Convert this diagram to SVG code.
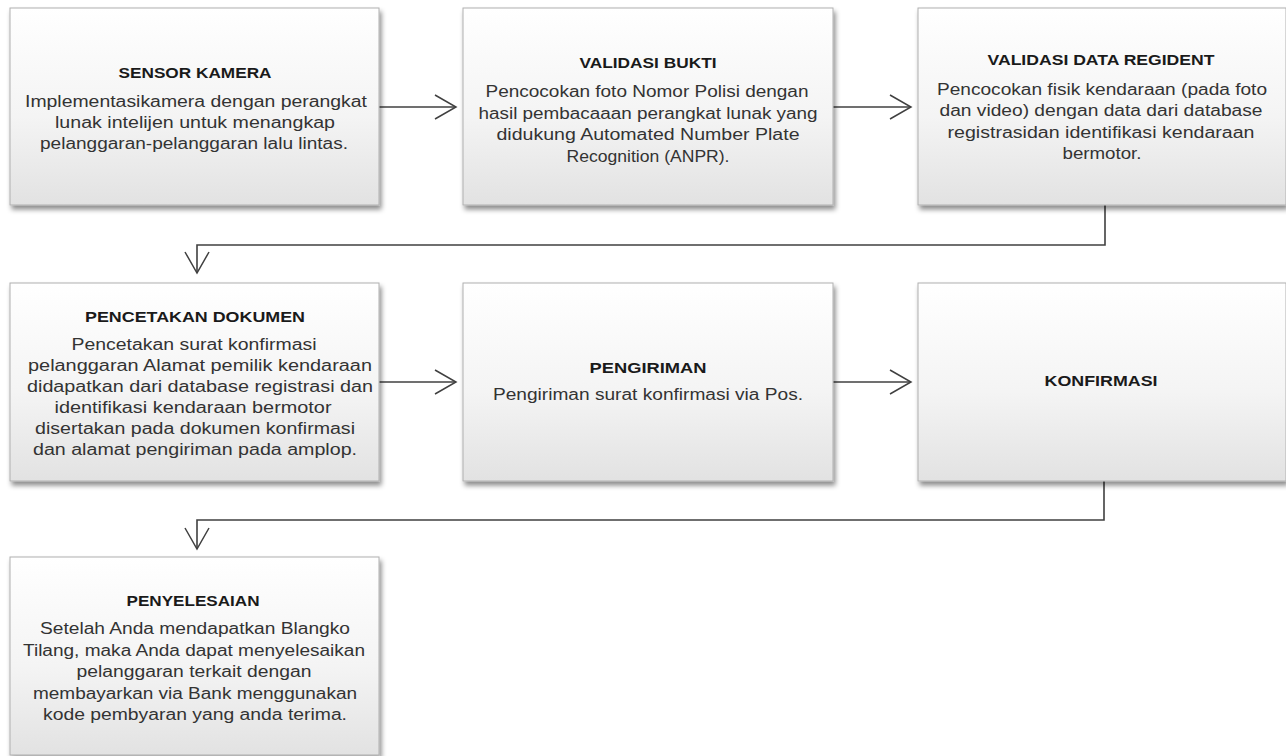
<svg xmlns="http://www.w3.org/2000/svg" width="1286" height="756" viewBox="0 0 1286 756">
<defs>
<linearGradient id="g" x1="0" y1="0" x2="0" y2="1">
<stop offset="0" stop-color="#ffffff"/>
<stop offset="0.55" stop-color="#f4f4f4"/>
<stop offset="1" stop-color="#e2e2e2"/>
</linearGradient>
<filter id="sh" x="-5%" y="-5%" width="115%" height="120%">
<feDropShadow dx="2" dy="4" stdDeviation="2.5" flood-color="#000" flood-opacity="0.45"/>
</filter>
<marker id="ah" markerUnits="userSpaceOnUse" markerWidth="26" markerHeight="28" viewBox="0 0 26 28" refX="23" refY="14" orient="auto">
<path d="M2,2 L23,14 L2,26" fill="none" stroke="#404040" stroke-width="1.5"/>
</marker>
</defs>
<style>
.box{fill:url(#g);stroke:#b0b0b0;stroke-width:1;filter:url(#sh)}
.t{font-family:"Liberation Sans",Arial,sans-serif;font-weight:bold;font-size:15px;fill:#1a1a1a;text-anchor:middle}
.b{font-family:"Liberation Sans",Arial,sans-serif;font-size:16px;fill:#333;text-anchor:middle}
.c{fill:none;stroke:#404040;stroke-width:1.6}
</style>
<rect width="1286" height="756" fill="#fff"/>
<g id="connectors">
<path class="c" d="M379,107 H456" marker-end="url(#ah)"/>
<path class="c" d="M833,107 H911" marker-end="url(#ah)"/>
<path class="c" d="M1105,205 V245 H197 V273" marker-end="url(#ah)"/>
<path class="c" d="M379,382 H456" marker-end="url(#ah)"/>
<path class="c" d="M833,382 H911" marker-end="url(#ah)"/>
<path class="c" d="M1104,481 V520 H197 V549" marker-end="url(#ah)"/>
</g>
<g id="n1">
<rect class="box" x="10" y="8" width="369" height="197"/>
<text class="t" x="195" y="78" textLength="153" lengthAdjust="spacingAndGlyphs">SENSOR KAMERA</text>
<text class="b" x="196" y="107" textLength="342" lengthAdjust="spacingAndGlyphs">Implementasikamera dengan perangkat</text>
<text class="b" x="195" y="128" textLength="280" lengthAdjust="spacingAndGlyphs">lunak intelijen untuk menangkap</text>
<text class="b" x="194" y="149" textLength="308" lengthAdjust="spacingAndGlyphs">pelanggaran-pelanggaran lalu lintas.</text>
</g>
<g id="n2">
<rect class="box" x="463" y="8" width="370" height="197"/>
<text class="t" x="648" y="68" textLength="137" lengthAdjust="spacingAndGlyphs">VALIDASI BUKTI</text>
<text class="b" x="647" y="97" textLength="323" lengthAdjust="spacingAndGlyphs">Pencocokan foto Nomor Polisi dengan</text>
<text class="b" x="648" y="119" textLength="339" lengthAdjust="spacingAndGlyphs">hasil pembacaaan perangkat lunak yang</text>
<text class="b" x="648" y="140" textLength="303" lengthAdjust="spacingAndGlyphs">didukung Automated Number Plate</text>
<text class="b" x="648" y="162" textLength="163" lengthAdjust="spacingAndGlyphs">Recognition (ANPR).</text>
</g>
<g id="n3">
<rect class="box" x="918" y="8" width="368" height="197"/>
<text class="t" x="1101" y="65" textLength="227" lengthAdjust="spacingAndGlyphs">VALIDASI DATA REGIDENT</text>
<text class="b" x="1102" y="95" textLength="330" lengthAdjust="spacingAndGlyphs">Pencocokan fisik kendaraan (pada foto</text>
<text class="b" x="1101" y="116" textLength="323" lengthAdjust="spacingAndGlyphs">dan video) dengan data dari database</text>
<text class="b" x="1101" y="138" textLength="307" lengthAdjust="spacingAndGlyphs">registrasidan identifikasi kendaraan</text>
<text class="b" x="1102" y="159" textLength="79" lengthAdjust="spacingAndGlyphs">bermotor.</text>
</g>
<g id="n4">
<rect class="box" x="10" y="283" width="369" height="198"/>
<text class="t" x="195" y="322" textLength="220" lengthAdjust="spacingAndGlyphs">PENCETAKAN DOKUMEN</text>
<text class="b" x="194" y="350" textLength="245" lengthAdjust="spacingAndGlyphs">Pencetakan surat konfirmasi</text>
<text class="b" x="200" y="371" textLength="344" lengthAdjust="spacingAndGlyphs">pelanggaran Alamat pemilik kendaraan</text>
<text class="b" x="200" y="392" textLength="346" lengthAdjust="spacingAndGlyphs">didapatkan dari database registrasi dan</text>
<text class="b" x="193" y="413" textLength="277" lengthAdjust="spacingAndGlyphs">identifikasi kendaraan bermotor</text>
<text class="b" x="195" y="434" textLength="320" lengthAdjust="spacingAndGlyphs">disertakan pada dokumen konfirmasi</text>
<text class="b" x="195" y="455" textLength="324" lengthAdjust="spacingAndGlyphs">dan alamat pengiriman pada amplop.</text>
</g>
<g id="n5">
<rect class="box" x="463" y="283" width="370" height="198"/>
<text class="t" x="648" y="373" textLength="117" lengthAdjust="spacingAndGlyphs">PENGIRIMAN</text>
<text class="b" x="648" y="400" textLength="310" lengthAdjust="spacingAndGlyphs">Pengiriman surat konfirmasi via Pos.</text>
</g>
<g id="n6">
<rect class="box" x="918" y="283" width="368" height="198"/>
<text class="t" x="1101" y="386" textLength="113" lengthAdjust="spacingAndGlyphs">KONFIRMASI</text>
</g>
<g id="n7">
<rect class="box" x="10" y="557" width="369" height="198"/>
<text class="t" x="193" y="606" textLength="133" lengthAdjust="spacingAndGlyphs">PENYELESAIAN</text>
<text class="b" x="195" y="634" textLength="310" lengthAdjust="spacingAndGlyphs">Setelah Anda mendapatkan Blangko</text>
<text class="b" x="194" y="656" textLength="342" lengthAdjust="spacingAndGlyphs">Tilang, maka Anda dapat menyelesaikan</text>
<text class="b" x="194" y="677" textLength="235" lengthAdjust="spacingAndGlyphs">pelanggaran terkait dengan</text>
<text class="b" x="195" y="699" textLength="324" lengthAdjust="spacingAndGlyphs">membayarkan via Bank menggunakan</text>
<text class="b" x="195" y="720" textLength="304" lengthAdjust="spacingAndGlyphs">kode pembyaran yang anda terima.</text>
</g>
</svg>
